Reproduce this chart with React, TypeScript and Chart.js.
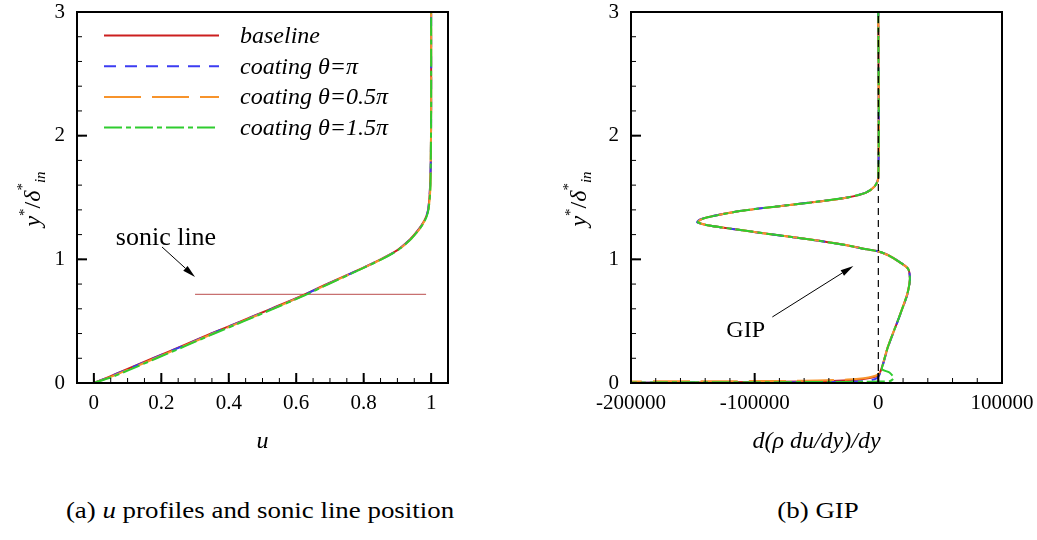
import React, { useEffect, useRef } from "react";
import { Chart, registerables } from "chart.js";

Chart.register(...registerables);

const SERIF = "'Liberation Serif', 'Times New Roman', Times, serif";

// ---------- Series metadata ----------
const seriesLabels = ["baseline", "coating θ=π", "coating θ=0.5π", "coating θ=1.5π"];
const seriesColors = ["#cc1f1f", "#3c3cf2", "#f7932b", "#2fcc2f"];
const seriesDashes: number[][] = [[], [12, 9], [37, 11], [18, 4, 5, 4]];

// ---------- Panel (a): u profiles ----------
const yProfile = [0, 0.05, 0.1, 0.2, 0.3, 0.4, 0.5, 0.6, 0.7, 0.8, 0.9, 1.0, 1.075, 1.15, 1.2, 1.25, 1.3, 1.35, 1.4, 1.5, 1.6, 1.8, 2.2, 3.0];
const uBaseline = [0, 0.045, 0.088, 0.175, 0.262, 0.348, 0.437, 0.525, 0.612, 0.69, 0.773, 0.85, 0.9, 0.933, 0.95, 0.965, 0.977, 0.986, 0.991, 0.995, 0.997, 0.999, 1.0, 1.0];
const uPi = [0, 0.046, 0.09, 0.177, 0.264, 0.35, 0.439, 0.527, 0.614, 0.692, 0.774, 0.851, 0.901, 0.934, 0.951, 0.966, 0.978, 0.986, 0.991, 0.995, 0.997, 0.999, 1.0, 1.0];
const uHalfPi = [0, 0.05, 0.095, 0.182, 0.268, 0.354, 0.442, 0.53, 0.616, 0.694, 0.775, 0.852, 0.902, 0.935, 0.952, 0.967, 0.978, 0.987, 0.992, 0.996, 0.998, 0.999, 1.0, 1.0];
const uThreeHalfPi = [0, 0.055, 0.1, 0.186, 0.272, 0.357, 0.445, 0.532, 0.618, 0.696, 0.776, 0.853, 0.902, 0.935, 0.952, 0.967, 0.979, 0.987, 0.992, 0.996, 0.998, 0.999, 1.0, 1.0];
const sonicU = [0.3, 0.985];
const sonicY = [0.717, 0.717];

const uAxis = { min: -0.05, max: 1.05, step: 0.2, minor: 0.05 };
const yAxis = { min: 0, max: 3, step: 1, minor: 0.2 };

// ---------- Panel (b): GIP ----------
const gipBaselineX = [-260000, -150000, -60000, -20000, -5000, 0, 3000, 7700, 16000, 22900, 24800, 25500, 24000, 16000, 7700, 0, -14000, -29000, -55000, -85000, -110000, -128000, -140000, -146000, -144000, -138000, -112000, -80000, -50000, -25000, -10000, -3000, 0, 0];
const gipBaselineY = [0.0, 0.004, 0.012, 0.025, 0.045, 0.06, 0.13, 0.29, 0.51, 0.70, 0.78, 0.85, 0.925, 0.985, 1.035, 1.064, 1.09, 1.12, 1.16, 1.20, 1.235, 1.26, 1.28, 1.30, 1.32, 1.34, 1.39, 1.43, 1.465, 1.50, 1.54, 1.59, 1.66, 3.0];
const gipPiX = [-260000, -120000, -40000, -12000, -3000, 0, 3200, 7800, 16100, 23000, 24900, 25600, 24100, 16100, 7800, 0, -14200, -29300, -55500, -85500, -110500, -128500, -140500, -146500, -144500, -138500, -112500, -80500, -50500, -25200, -10100, -3000, 0, 0];
const gipPiY = [0.002, 0.004, 0.008, 0.015, 0.03, 0.05, 0.13, 0.29, 0.51, 0.70, 0.78, 0.85, 0.925, 0.985, 1.035, 1.064, 1.09, 1.12, 1.16, 1.20, 1.235, 1.26, 1.28, 1.30, 1.32, 1.34, 1.39, 1.43, 1.465, 1.50, 1.54, 1.59, 1.66, 3.0];
const gipHalfPiX = [-260000, -150000, -60000, -25000, -8000, 0, 3000, 7600, 15900, 22800, 24700, 25400, 23900, 15900, 7600, 0, -13800, -28800, -54800, -84700, -109700, -127800, -139800, -145800, -143800, -137800, -111800, -79800, -49800, -24800, -9900, -3000, 0, 0];
const gipHalfPiY = [0.012, 0.014, 0.018, 0.028, 0.045, 0.07, 0.13, 0.29, 0.51, 0.70, 0.78, 0.85, 0.925, 0.985, 1.035, 1.064, 1.09, 1.12, 1.16, 1.20, 1.235, 1.26, 1.28, 1.30, 1.32, 1.34, 1.39, 1.43, 1.465, 1.50, 1.54, 1.59, 1.66, 3.0];
const gipThreeHalfPiX = [-260000, -120000, -40000, -10000, 0, 9000, 12500, 9000, 3000, 4000, 7700, 16000, 22900, 24800, 25500, 24000, 16000, 7700, 0, -14000, -29000, -55000, -85000, -110000, -128000, -140000, -146000, -144000, -138000, -112000, -80000, -50000, -25000, -10000, -3000, 0, 0];
const gipThreeHalfPiY = [0.004, 0.006, 0.008, 0.01, 0.012, 0.014, 0.04, 0.085, 0.11, 0.16, 0.29, 0.51, 0.70, 0.78, 0.85, 0.925, 0.985, 1.035, 1.064, 1.09, 1.12, 1.16, 1.20, 1.235, 1.26, 1.28, 1.30, 1.32, 1.34, 1.39, 1.43, 1.465, 1.50, 1.54, 1.59, 1.66, 3.0];
const zeroLineX = [0, 0];
const zeroLineY = [0, 3];

const gAxis = { min: -200000, max: 100000, step: 100000, minor: 20000 };

// ---------- helpers ----------
const zip = (xs: number[], ys: number[]) => xs.map((x, i) => ({ x, y: ys[i] }));

const paperAxes = {
  id: "paperAxes",
  afterDatasetsDraw(chart: any, _a: any, opts: any) {
    const { ctx, chartArea: a, scales } = chart;
    const xs = scales.x;
    const ys = scales.y;
    ctx.save();
    ctx.strokeStyle = "#000";
    const tickX = (v: number, len: number, w: number) => {
      const p = xs.getPixelForValue(v);
      ctx.lineWidth = w;
      ctx.beginPath();
      ctx.moveTo(p, a.bottom);
      ctx.lineTo(p, a.bottom - len);
      ctx.stroke();
    };
    const tickY = (v: number, len: number, w: number) => {
      const p = ys.getPixelForValue(v);
      ctx.lineWidth = w;
      ctx.beginPath();
      ctx.moveTo(a.left, p);
      ctx.lineTo(a.left + len, p);
      ctx.stroke();
    };
    for (let i = Math.ceil(xs.min / opts.xMinor - 1e-6); i * opts.xMinor <= xs.max + 1e-9; i++) tickX(i * opts.xMinor, 5, 1);
    for (let i = Math.ceil(ys.min / opts.yMinor - 1e-6); i * opts.yMinor <= ys.max + 1e-9; i++) tickY(i * opts.yMinor, 5, 1);
    xs.ticks.forEach((t: any) => tickX(t.value, 10, 2));
    ys.ticks.forEach((t: any) => tickY(t.value, 10, 2));
    ctx.lineWidth = 2;
    ctx.strokeRect(a.left, a.top, a.right - a.left, a.bottom - a.top);
    ctx.restore();
  },
};

const paperNotes = {
  id: "paperNotes",
  afterDraw(chart: any, _a: any, opts: any) {
    const { ctx, chartArea: a, scales } = chart;
    const xs = scales.x;
    const ys = scales.y;
    ctx.save();
    // arrows
    (opts.arrows || []).forEach((ar: any) => {
      const x1 = xs.getPixelForValue(ar.x1), y1 = ys.getPixelForValue(ar.y1);
      const x2 = xs.getPixelForValue(ar.x2), y2 = ys.getPixelForValue(ar.y2);
      const ang = Math.atan2(y2 - y1, x2 - x1);
      const hl = 13, hw = 3.2;
      ctx.strokeStyle = "#000";
      ctx.fillStyle = "#000";
      ctx.lineWidth = 1;
      ctx.beginPath();
      ctx.moveTo(x1, y1);
      ctx.lineTo(x2 - hl * Math.cos(ang), y2 - hl * Math.sin(ang));
      ctx.stroke();
      ctx.beginPath();
      ctx.moveTo(x2, y2);
      ctx.lineTo(x2 - hl * Math.cos(ang) + hw * Math.sin(ang), y2 - hl * Math.sin(ang) - hw * Math.cos(ang));
      ctx.lineTo(x2 - hl * Math.cos(ang) - hw * Math.sin(ang), y2 - hl * Math.sin(ang) + hw * Math.cos(ang));
      ctx.closePath();
      ctx.fill();
    });
    // texts
    (opts.texts || []).forEach((t: any) => {
      ctx.fillStyle = "#000";
      ctx.font = `${t.size}px ${SERIF}`;
      ctx.textAlign = "left";
      ctx.textBaseline = "alphabetic";
      ctx.fillText(t.text, xs.getPixelForValue(t.x), ys.getPixelForValue(t.y));
    });
    // legend
    if (opts.legend) {
      const L = opts.legend;
      L.items.forEach((idx: number, k: number) => {
        const ds = chart.data.datasets[idx];
        const cy = a.top + L.top + k * L.dy;
        ctx.strokeStyle = ds.borderColor;
        ctx.lineWidth = 2;
        ctx.setLineDash(ds.borderDash || []);
        ctx.beginPath();
        ctx.moveTo(a.left + L.lineStart, cy);
        ctx.lineTo(a.left + L.lineEnd, cy);
        ctx.stroke();
        ctx.setLineDash([]);
        ctx.fillStyle = "#000";
        ctx.font = `italic ${L.size}px ${SERIF}`;
        ctx.textAlign = "left";
        ctx.textBaseline = "middle";
        ctx.fillText(ds.label, a.left + L.textStart, cy + 1);
      });
    }
    // y-axis title with super/subscripts, rotated
    if (opts.yTitle) {
      const T = opts.yTitle;
      const parts = [
        { t: "y", s: 24, it: true, dy: 0 },
        { t: "*", s: 15, it: false, dy: -11 },
        { t: "/", s: 24, it: false, dy: 0 },
        { t: "δ", s: 24, it: true, dy: 0 },
        { t: "*", s: 15, it: false, dy: -13 },
        { t: "in", s: 15, it: true, dy: 5 },
      ];
      const fontOf = (p: any) => `${p.it ? "italic " : ""}${p.s}px ${SERIF}`;
      let total = 0;
      const widths = parts.map((p) => {
        ctx.font = fontOf(p);
        const w = ctx.measureText(p.t).width;
        total += w;
        return w;
      });
      ctx.translate(T.baselineX, T.centerY);
      ctx.rotate(-Math.PI / 2);
      ctx.fillStyle = "#000";
      ctx.textAlign = "left";
      ctx.textBaseline = "alphabetic";
      let x = -total / 2;
      parts.forEach((p, i) => {
        ctx.font = fontOf(p);
        ctx.fillText(p.t, x, p.dy);
        x += widths[i];
      });
    }
    ctx.restore();
  },
};

const tickFont = { family: SERIF, size: 21, lineHeight: 1 };
const axisTitleFont = { family: SERIF, size: 24, style: "italic" as const, lineHeight: 1.2 };

function fmt(v: number) {
  return String(Number(Number(v).toFixed(3)));
}

function baseOptions(p: any) {
  return {
    responsive: false,
    animation: false,
    events: [],
    layout: { padding: { left: 0, top: 12, right: p.padRight, bottom: 0 } },
    plugins: {
      legend: { display: false },
      tooltip: { enabled: false },
      paperAxes: { xMinor: p.x.minor, yMinor: yAxis.minor },
      paperNotes: p.notes,
    },
    scales: {
      x: {
        type: "linear",
        min: p.x.min,
        max: p.x.max,
        ticks: {
          stepSize: p.x.step,
          includeBounds: false,
          autoSkip: false,
          maxRotation: 0,
          font: tickFont,
          color: "#000",
          padding: 10,
          callback: (v: any) => fmt(v),
        },
        grid: { display: false, drawTicks: false },
        border: { display: false },
        title: { display: true, text: p.xTitle, font: axisTitleFont, color: "#000", padding: { top: 0, bottom: 14 } },
        afterFit: (s: any) => {
          s.height = 87;
          s.paddingLeft = 0;
          s.paddingRight = 0;
        },
      },
      y: {
        type: "linear",
        min: yAxis.min,
        max: yAxis.max,
        ticks: {
          stepSize: yAxis.step,
          includeBounds: false,
          font: tickFont,
          color: "#000",
          padding: 12,
          callback: (v: any) => fmt(v),
        },
        grid: { display: false, drawTicks: false },
        border: { display: false },
        afterFit: (s: any) => {
          s.width = 77;
          s.paddingTop = 0;
          s.paddingBottom = 0;
        },
      },
    },
  };
}

function lineDs(label: string, data: any[], color: string, dash: number[], order: number, tension = 0.25) {
  return {
    label,
    data,
    showLine: true,
    borderColor: color,
    backgroundColor: color,
    borderDash: dash,
    borderWidth: 2,
    pointRadius: 0,
    fill: false,
    tension,
    order,
  };
}

function buildLeft() {
  return {
    type: "scatter" as const,
    data: {
      datasets: [
        lineDs(seriesLabels[0], zip(uBaseline, yProfile), seriesColors[0], seriesDashes[0], 3),
        lineDs(seriesLabels[1], zip(uPi, yProfile), seriesColors[1], seriesDashes[1], 2),
        lineDs(seriesLabels[2], zip(uHalfPi, yProfile), seriesColors[2], seriesDashes[2], 1),
        lineDs(seriesLabels[3], zip(uThreeHalfPi, yProfile), seriesColors[3], seriesDashes[3], 0),
        { ...lineDs("sonic line", zip(sonicU, sonicY), "#c87070", [], 5, 0), borderWidth: 1.3 },
      ],
    },
    options: baseOptions({
      padRight: 106,
      x: uAxis,
      xTitle: "u",
      notes: {
        texts: [{ text: "sonic line", x: 0.065, y: 1.116, size: 26 }],
        arrows: [{ x1: 0.202, y1: 1.1, x2: 0.3, y2: 0.857 }],
        legend: { items: [0, 1, 2, 3], top: 23.5, dy: 30.7, lineStart: 27, lineEnd: 142, textStart: 163, size: 24 },
        yTitle: { baselineX: 40, centerY: 199 },
      },
    }),
    plugins: [paperAxes, paperNotes],
  };
}

function buildRight() {
  return {
    type: "scatter" as const,
    data: {
      datasets: [
        lineDs(seriesLabels[0], zip(gipBaselineX, gipBaselineY), seriesColors[0], seriesDashes[0], 3),
        lineDs(seriesLabels[1], zip(gipPiX, gipPiY), seriesColors[1], seriesDashes[1], 2),
        lineDs(seriesLabels[2], zip(gipHalfPiX, gipHalfPiY), seriesColors[2], seriesDashes[2], 1),
        lineDs(seriesLabels[3], zip(gipThreeHalfPiX, gipThreeHalfPiY), seriesColors[3], seriesDashes[3], 0),
        { ...lineDs("zero", zip(zeroLineX, zeroLineY), "#000", [7, 5], -1, 0), borderWidth: 1.2 },
      ],
    },
    options: baseOptions({
      padRight: 35,
      x: gAxis,
      xTitle: "d(ρ du/dy)/dy",
      notes: {
        texts: [{ text: "GIP", x: -122900, y: 0.372, size: 24 }],
        arrows: [{ x1: -85700, y1: 0.534, x2: -20200, y2: 0.946 }],
        yTitle: { baselineX: 32, centerY: 199 },
      },
    }),
    plugins: [paperAxes, paperNotes],
  };
}

function Panel({ build, left, width, height }: { build: () => any; left: number; width: number; height: number }) {
  const ref = useRef<HTMLCanvasElement>(null);
  useEffect(() => {
    const chart = new Chart(ref.current as HTMLCanvasElement, build());
    return () => chart.destroy();
  }, []);
  return (
    <canvas
      ref={ref}
      width={width}
      height={height}
      style={{ position: "absolute", left, top: 0, width, height }}
    />
  );
}

export default function App() {
  const cap: React.CSSProperties = {
    position: "absolute",
    top: 496,
    fontFamily: SERIF,
    fontSize: 24,
    lineHeight: "28px",
    color: "#000",
    whiteSpace: "nowrap",
    transform: "translateX(-50%) scaleX(1.12)",
  };
  return (
    <div style={{ position: "absolute", left: 0, top: 0, width: 1037, height: 540, background: "#fff", overflow: "hidden" }}>
      <Panel build={buildLeft} left={0} width={554} height={470} />
      <Panel build={buildRight} left={554} width={483} height={470} />
      <div style={{ ...cap, left: 260 }}>
        (a) <i>u</i> profiles and sonic line position
      </div>
      <div style={{ ...cap, left: 818 }}>(b) GIP</div>
    </div>
  );
}
